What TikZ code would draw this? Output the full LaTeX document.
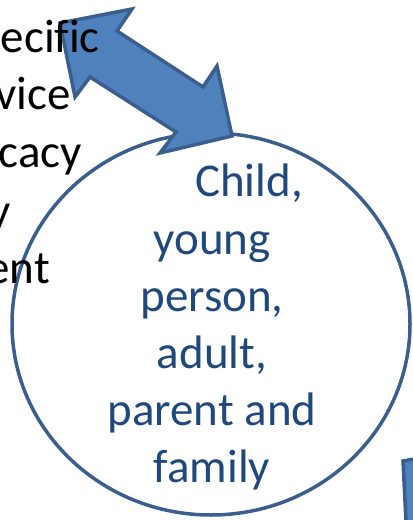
\documentclass[tikz,border=0pt]{standalone}
\usepackage{fontspec}
\setmainfont{Carlito}[Ligatures=NoCommon]
\usepackage{xcolor}
\usepackage{tikz}
\definecolor{arrowfill}{HTML}{4F81BD}
\definecolor{arrowline}{HTML}{3A5F8F}
\definecolor{circletext}{HTML}{1F497D}

\begin{document}
\begin{tikzpicture}[
  x=1bp, y=-1bp,
  sidetext/.style={font=\fontsize{47bp}{57bp}\selectfont, text=black,
    inner sep=0pt, anchor=base east},
  whotext/.style={font=\fontsize{47bp}{57bp}\selectfont, text=circletext,
    inner sep=0pt, anchor=base},
  blockarrow/.style={fill=arrowfill, draw=arrowline, line width=3.5bp},
  ring/.style={draw=arrowline, line width=3.5bp}
]
\useasboundingbox (0,0) rectangle (412,520);

% Circle round the person
\path[ring] (211,324) ellipse [x radius=199, y radius=191];

\foreach \txt/\xx/\yy [count=\i] in {{Child,}/249/197, {young}/212/254,
    {person,}/212/311, {adult,}/212/368, {parent and}/212/425, {family}/212/482}
  \node[whotext] (who\i) at (\xx,\yy) {\txt};

% Double block arrow
\draw[blockarrow] (60,23) -- (132,9) -- (117,31) -- (203,87) -- (217,66)
  -- (232,136) -- (160,153) -- (176,132) -- (90,77) -- (75,97) -- cycle;

% Edge of the next shape
\fill[arrowfill] (403,461) -- (414,459) -- (414,522) -- (406,522) -- cycle;
\draw[arrowline, line width=3.5bp] (414,459) -- (403,461) -- (406,522);

% Left: cut-off words
\node[sidetext] (s1) at (100,53) {ecif\kern0pt ic};
\node[sidetext] (s2) at (71,110) {vice};
\node[sidetext] (s3) at (82,168) {cacy};
\node[sidetext] (s4) at (11,226) {y};
\node[sidetext] (s5) at (50,283) {ent};

\end{tikzpicture}
\end{document}
